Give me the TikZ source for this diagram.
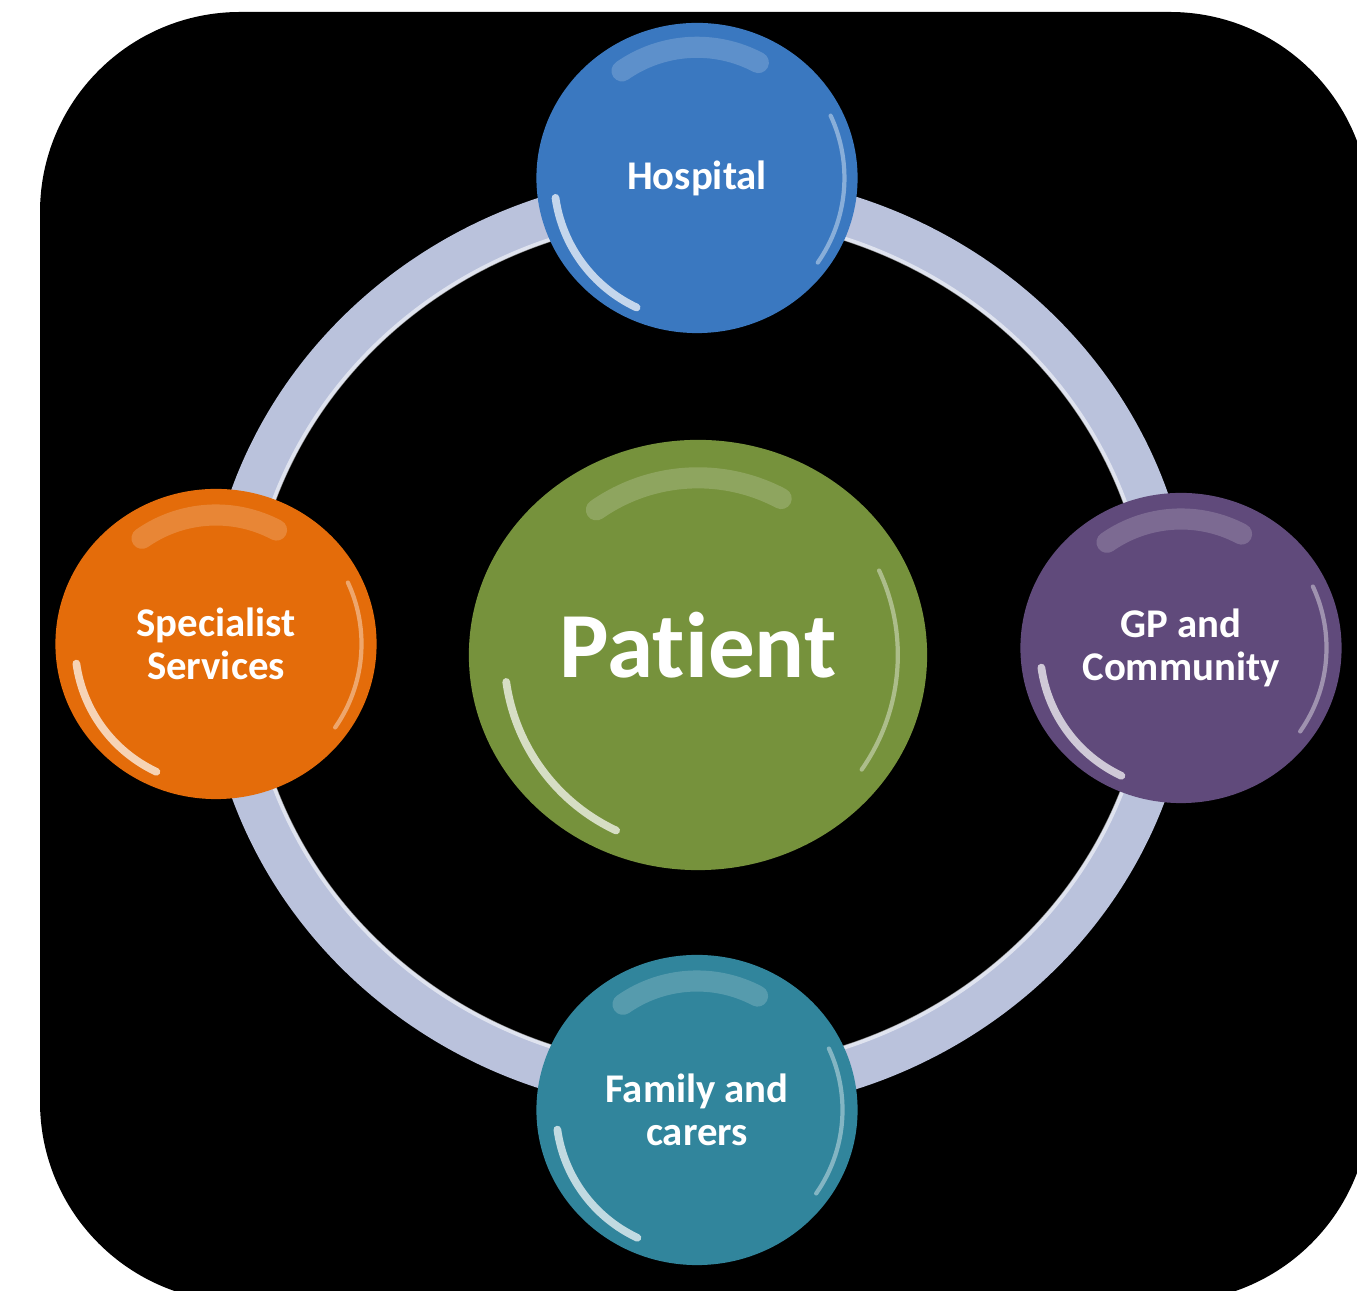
\documentclass[tikz,border=0pt]{standalone}
\usepackage{fontspec}
\setmainfont[Ligatures=NoCommon]{Carlito}
\usepackage{tikz}
\usetikzlibrary{shapes.geometric}

\definecolor{hospblue}{RGB}{58,120,192}
\definecolor{patgreen}{RGB}{118,146,60}
\definecolor{specorange}{RGB}{228,108,10}
\definecolor{gppurple}{RGB}{96,74,123}
\definecolor{famteal}{RGB}{49,133,156}
\definecolor{ringgrey}{RGB}{186,194,220}

\begin{document}
\begin{tikzpicture}[x=0.01cm,y=0.01cm,
  bubble/.style={ellipse,inner sep=0pt,minimum width=3.21cm,minimum height=3.1cm,
    text=white,align=center,font=\bfseries\fontsize{11.6}{12.4}\selectfont},
  ring/.style={draw=ringgrey,line width=0.45cm},
  gloss/.style={draw=white,line cap=round}]
  \useasboundingbox (0,0) rectangle (1357,1291);
  \fill[white] (0,0) rectangle (1357,1291);
  \clip (0,0) rectangle (1357,1291);
  \fill[black,rounded corners=2cm] (40,-11) rectangle (1370,1279);

  % ring behind the bubbles
  \draw[ring] (699,648) ellipse [x radius=472,y radius=448];
  \draw[white,opacity=.55,line width=1.2pt] (699,648) ellipse [x radius=451,y radius=427];

  \node[bubble,fill=hospblue] (H) at (697,1113) {Hospital};
  \node[bubble,fill=specorange] (S) at (216,647) {Specialist\\Services};
  \node[bubble,fill=gppurple] (G) at (1181,643) {GP and\\Community};
  \node[bubble,fill=famteal] (F) at (697,181) {Family and\\carers};
  \node[bubble,fill=patgreen,minimum width=4.58cm,minimum height=4.3cm,
    font=\bfseries\fontsize{26.5}{30}\selectfont] (P) at (698,636) {\raisebox{6pt}{Patient}};

  % glossy rims
  \foreach \n/\r in {H/152,S/150,G/150,F/150,P/206} {
    \draw[gloss,opacity=.7,line width=2.2pt] (\n.center) ++(188:0.94*\r) arc[start angle=188,end angle=245,radius=0.94*\r];
    \draw[gloss,opacity=.18,line width=6pt] (\n.center) ++(62:0.86*\r) arc[start angle=62,end angle=125,radius=0.86*\r];
    \draw[gloss,opacity=.4,line width=1.2pt] (\n.center) ++(-35:0.97*\r) arc[start angle=-35,end angle=25,radius=0.97*\r];
  }
\end{tikzpicture}
\end{document}
